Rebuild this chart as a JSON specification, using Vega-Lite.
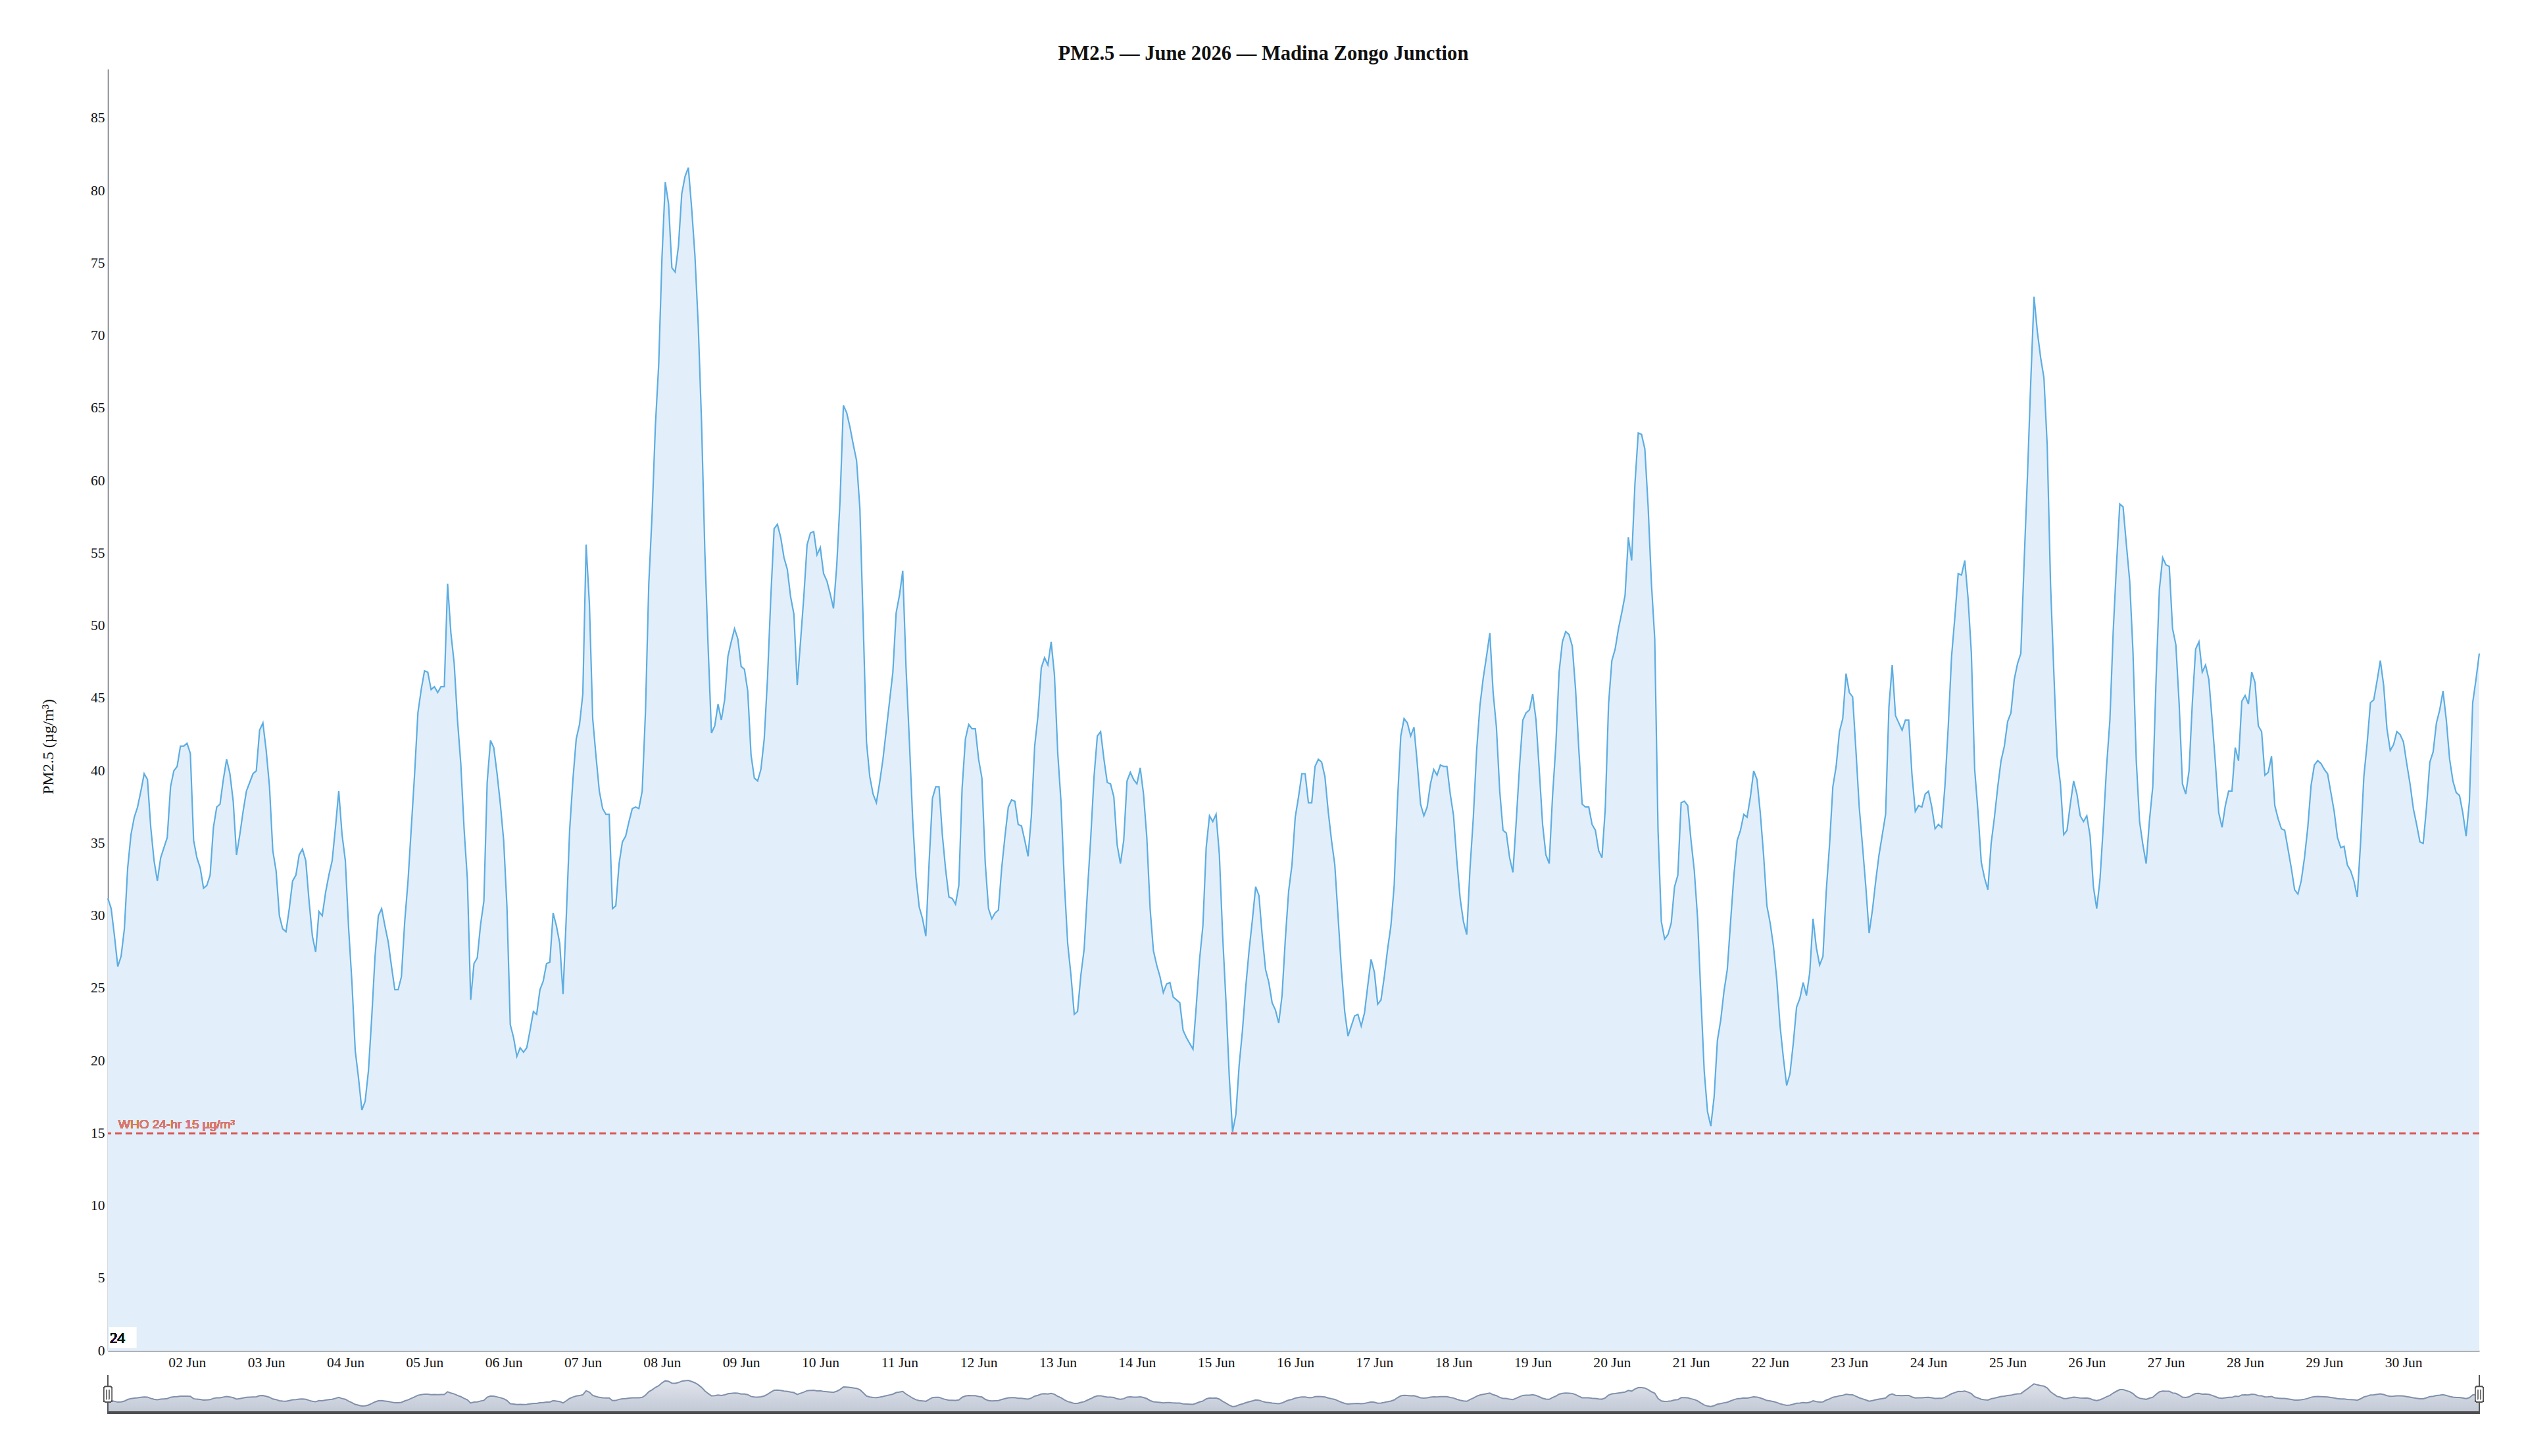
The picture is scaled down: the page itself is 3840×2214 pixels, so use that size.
{
  "$schema": "https://vega.github.io/schema/vega-lite/v6.json",
  "autosize": {"type": "none"},
  "width": 3605,
  "height": 1949,
  "padding": {"left": 164, "top": 105, "right": 71, "bottom": 160},
  "background": "white",
  "title": {
    "text": "PM2.5 — June 2026 — Madina Zongo Junction",
    "font": "Liberation Serif",
    "fontSize": 30.6,
    "fontWeight": "bold",
    "color": "#111",
    "anchor": "middle",
    "dx": -46,
    "offset": 7
  },
  "datasets": {
    "pm": [
      {"t":"2026-06-01T00:00","v":31.2},{"t":"2026-06-01T01:00","v":30.5},{"t":"2026-06-01T02:00","v":28.6},{"t":"2026-06-01T03:00","v":26.5},{"t":"2026-06-01T04:00","v":27.2},{"t":"2026-06-01T05:00","v":29.1},{"t":"2026-06-01T06:00","v":33.3},{"t":"2026-06-01T07:00","v":35.6},{"t":"2026-06-01T08:00","v":36.8},{"t":"2026-06-01T09:00","v":37.5},{"t":"2026-06-01T10:00","v":38.6},{"t":"2026-06-01T11:00","v":39.8},{"t":"2026-06-01T12:00","v":39.4},{"t":"2026-06-01T13:00","v":36.1},{"t":"2026-06-01T14:00","v":33.8},{"t":"2026-06-01T15:00","v":32.4},{"t":"2026-06-01T16:00","v":34.0},{"t":"2026-06-01T17:00","v":34.7},{"t":"2026-06-01T18:00","v":35.4},{"t":"2026-06-01T19:00","v":38.9},{"t":"2026-06-01T20:00","v":40.0},{"t":"2026-06-01T21:00","v":40.3},{"t":"2026-06-01T22:00","v":41.7},{"t":"2026-06-01T23:00","v":41.7},
      {"t":"2026-06-02T00:00","v":41.9},{"t":"2026-06-02T01:00","v":41.2},{"t":"2026-06-02T02:00","v":35.2},{"t":"2026-06-02T03:00","v":34.0},{"t":"2026-06-02T04:00","v":33.3},{"t":"2026-06-02T05:00","v":31.9},{"t":"2026-06-02T06:00","v":32.1},{"t":"2026-06-02T07:00","v":32.8},{"t":"2026-06-02T08:00","v":36.1},{"t":"2026-06-02T09:00","v":37.5},{"t":"2026-06-02T10:00","v":37.7},{"t":"2026-06-02T11:00","v":39.4},{"t":"2026-06-02T12:00","v":40.8},{"t":"2026-06-02T13:00","v":39.8},{"t":"2026-06-02T14:00","v":37.9},{"t":"2026-06-02T15:00","v":34.2},{"t":"2026-06-02T16:00","v":35.6},{"t":"2026-06-02T17:00","v":37.2},{"t":"2026-06-02T18:00","v":38.6},{"t":"2026-06-02T19:00","v":39.2},{"t":"2026-06-02T20:00","v":39.8},{"t":"2026-06-02T21:00","v":40.0},{"t":"2026-06-02T22:00","v":42.8},{"t":"2026-06-02T23:00","v":43.3},
      {"t":"2026-06-03T00:00","v":41.4},{"t":"2026-06-03T01:00","v":38.9},{"t":"2026-06-03T02:00","v":34.5},{"t":"2026-06-03T03:00","v":33.1},{"t":"2026-06-03T04:00","v":30.0},{"t":"2026-06-03T05:00","v":29.1},{"t":"2026-06-03T06:00","v":28.9},{"t":"2026-06-03T07:00","v":30.5},{"t":"2026-06-03T08:00","v":32.4},{"t":"2026-06-03T09:00","v":32.8},{"t":"2026-06-03T10:00","v":34.2},{"t":"2026-06-03T11:00","v":34.6},{"t":"2026-06-03T12:00","v":33.8},{"t":"2026-06-03T13:00","v":31.0},{"t":"2026-06-03T14:00","v":28.6},{"t":"2026-06-03T15:00","v":27.5},{"t":"2026-06-03T16:00","v":30.3},{"t":"2026-06-03T17:00","v":30.0},{"t":"2026-06-03T18:00","v":31.6},{"t":"2026-06-03T19:00","v":32.8},{"t":"2026-06-03T20:00","v":33.8},{"t":"2026-06-03T21:00","v":36.1},{"t":"2026-06-03T22:00","v":38.6},{"t":"2026-06-03T23:00","v":35.6},
      {"t":"2026-06-04T00:00","v":33.8},{"t":"2026-06-04T01:00","v":29.1},{"t":"2026-06-04T02:00","v":25.4},{"t":"2026-06-04T03:00","v":20.7},{"t":"2026-06-04T04:00","v":18.8},{"t":"2026-06-04T05:00","v":16.6},{"t":"2026-06-04T06:00","v":17.2},{"t":"2026-06-04T07:00","v":19.3},{"t":"2026-06-04T08:00","v":23.0},{"t":"2026-06-04T09:00","v":27.2},{"t":"2026-06-04T10:00","v":30.0},{"t":"2026-06-04T11:00","v":30.5},{"t":"2026-06-04T12:00","v":29.3},{"t":"2026-06-04T13:00","v":28.2},{"t":"2026-06-04T14:00","v":26.5},{"t":"2026-06-04T15:00","v":24.9},{"t":"2026-06-04T16:00","v":24.9},{"t":"2026-06-04T17:00","v":25.8},{"t":"2026-06-04T18:00","v":29.6},{"t":"2026-06-04T19:00","v":32.4},{"t":"2026-06-04T20:00","v":36.1},{"t":"2026-06-04T21:00","v":39.8},{"t":"2026-06-04T22:00","v":44.0},{"t":"2026-06-04T23:00","v":45.6},
      {"t":"2026-06-05T00:00","v":46.9},{"t":"2026-06-05T01:00","v":46.8},{"t":"2026-06-05T02:00","v":45.6},{"t":"2026-06-05T03:00","v":45.8},{"t":"2026-06-05T04:00","v":45.4},{"t":"2026-06-05T05:00","v":45.8},{"t":"2026-06-05T06:00","v":45.8},{"t":"2026-06-05T07:00","v":52.9},{"t":"2026-06-05T08:00","v":49.5},{"t":"2026-06-05T09:00","v":47.4},{"t":"2026-06-05T10:00","v":43.5},{"t":"2026-06-05T11:00","v":40.5},{"t":"2026-06-05T12:00","v":36.0},{"t":"2026-06-05T13:00","v":32.5},{"t":"2026-06-05T14:00","v":24.2},{"t":"2026-06-05T15:00","v":26.7},{"t":"2026-06-05T16:00","v":27.1},{"t":"2026-06-05T17:00","v":29.4},{"t":"2026-06-05T18:00","v":31.0},{"t":"2026-06-05T19:00","v":39.2},{"t":"2026-06-05T20:00","v":42.1},{"t":"2026-06-05T21:00","v":41.6},{"t":"2026-06-05T22:00","v":39.8},{"t":"2026-06-05T23:00","v":37.7},
      {"t":"2026-06-06T00:00","v":35.2},{"t":"2026-06-06T01:00","v":30.6},{"t":"2026-06-06T02:00","v":22.5},{"t":"2026-06-06T03:00","v":21.6},{"t":"2026-06-06T04:00","v":20.3},{"t":"2026-06-06T05:00","v":20.9},{"t":"2026-06-06T06:00","v":20.6},{"t":"2026-06-06T07:00","v":20.9},{"t":"2026-06-06T08:00","v":22.1},{"t":"2026-06-06T09:00","v":23.4},{"t":"2026-06-06T10:00","v":23.2},{"t":"2026-06-06T11:00","v":24.9},{"t":"2026-06-06T12:00","v":25.5},{"t":"2026-06-06T13:00","v":26.7},{"t":"2026-06-06T14:00","v":26.8},{"t":"2026-06-06T15:00","v":30.2},{"t":"2026-06-06T16:00","v":29.3},{"t":"2026-06-06T17:00","v":28.1},{"t":"2026-06-06T18:00","v":24.6},{"t":"2026-06-06T19:00","v":30.0},{"t":"2026-06-06T20:00","v":35.9},{"t":"2026-06-06T21:00","v":39.4},{"t":"2026-06-06T22:00","v":42.2},{"t":"2026-06-06T23:00","v":43.2},
      {"t":"2026-06-07T00:00","v":45.3},{"t":"2026-06-07T01:00","v":55.6},{"t":"2026-06-07T02:00","v":51.5},{"t":"2026-06-07T03:00","v":43.6},{"t":"2026-06-07T04:00","v":41.0},{"t":"2026-06-07T05:00","v":38.6},{"t":"2026-06-07T06:00","v":37.4},{"t":"2026-06-07T07:00","v":37.0},{"t":"2026-06-07T08:00","v":37.0},{"t":"2026-06-07T09:00","v":30.5},{"t":"2026-06-07T10:00","v":30.7},{"t":"2026-06-07T11:00","v":33.6},{"t":"2026-06-07T12:00","v":35.1},{"t":"2026-06-07T13:00","v":35.5},{"t":"2026-06-07T14:00","v":36.5},{"t":"2026-06-07T15:00","v":37.4},{"t":"2026-06-07T16:00","v":37.5},{"t":"2026-06-07T17:00","v":37.4},{"t":"2026-06-07T18:00","v":38.6},{"t":"2026-06-07T19:00","v":44.1},{"t":"2026-06-07T20:00","v":52.9},{"t":"2026-06-07T21:00","v":57.7},{"t":"2026-06-07T22:00","v":63.8},{"t":"2026-06-07T23:00","v":68.0},
      {"t":"2026-06-08T00:00","v":75.4},{"t":"2026-06-08T01:00","v":80.6},{"t":"2026-06-08T02:00","v":79.1},{"t":"2026-06-08T03:00","v":74.7},{"t":"2026-06-08T04:00","v":74.4},{"t":"2026-06-08T05:00","v":76.2},{"t":"2026-06-08T06:00","v":79.8},{"t":"2026-06-08T07:00","v":81.0},{"t":"2026-06-08T08:00","v":81.6},{"t":"2026-06-08T09:00","v":78.8},{"t":"2026-06-08T10:00","v":75.5},{"t":"2026-06-08T11:00","v":70.7},{"t":"2026-06-08T12:00","v":64.0},{"t":"2026-06-08T13:00","v":55.1},{"t":"2026-06-08T14:00","v":48.5},{"t":"2026-06-08T15:00","v":42.6},{"t":"2026-06-08T16:00","v":43.1},{"t":"2026-06-08T17:00","v":44.6},{"t":"2026-06-08T18:00","v":43.5},{"t":"2026-06-08T19:00","v":44.9},{"t":"2026-06-08T20:00","v":47.9},{"t":"2026-06-08T21:00","v":48.9},{"t":"2026-06-08T22:00","v":49.8},{"t":"2026-06-08T23:00","v":49.1},
      {"t":"2026-06-09T00:00","v":47.2},{"t":"2026-06-09T01:00","v":47.0},{"t":"2026-06-09T02:00","v":45.5},{"t":"2026-06-09T03:00","v":41.1},{"t":"2026-06-09T04:00","v":39.5},{"t":"2026-06-09T05:00","v":39.3},{"t":"2026-06-09T06:00","v":40.1},{"t":"2026-06-09T07:00","v":42.2},{"t":"2026-06-09T08:00","v":46.4},{"t":"2026-06-09T09:00","v":52.0},{"t":"2026-06-09T10:00","v":56.7},{"t":"2026-06-09T11:00","v":57.0},{"t":"2026-06-09T12:00","v":56.1},{"t":"2026-06-09T13:00","v":54.7},{"t":"2026-06-09T14:00","v":53.9},{"t":"2026-06-09T15:00","v":52.0},{"t":"2026-06-09T16:00","v":50.8},{"t":"2026-06-09T17:00","v":45.9},{"t":"2026-06-09T18:00","v":48.9},{"t":"2026-06-09T19:00","v":52.0},{"t":"2026-06-09T20:00","v":55.6},{"t":"2026-06-09T21:00","v":56.4},{"t":"2026-06-09T22:00","v":56.5},{"t":"2026-06-09T23:00","v":54.9},
      {"t":"2026-06-10T00:00","v":55.4},{"t":"2026-06-10T01:00","v":53.6},{"t":"2026-06-10T02:00","v":53.1},{"t":"2026-06-10T03:00","v":52.2},{"t":"2026-06-10T04:00","v":51.2},{"t":"2026-06-10T05:00","v":54.2},{"t":"2026-06-10T06:00","v":58.7},{"t":"2026-06-10T07:00","v":65.2},{"t":"2026-06-10T08:00","v":64.7},{"t":"2026-06-10T09:00","v":63.7},{"t":"2026-06-10T10:00","v":62.5},{"t":"2026-06-10T11:00","v":61.4},{"t":"2026-06-10T12:00","v":58.1},{"t":"2026-06-10T13:00","v":50.3},{"t":"2026-06-10T14:00","v":42.0},{"t":"2026-06-10T15:00","v":39.6},{"t":"2026-06-10T16:00","v":38.4},{"t":"2026-06-10T17:00","v":37.8},{"t":"2026-06-10T18:00","v":39.2},{"t":"2026-06-10T19:00","v":40.8},{"t":"2026-06-10T20:00","v":42.8},{"t":"2026-06-10T21:00","v":44.8},{"t":"2026-06-10T22:00","v":46.8},{"t":"2026-06-10T23:00","v":50.9},
      {"t":"2026-06-11T00:00","v":52.1},{"t":"2026-06-11T01:00","v":53.8},{"t":"2026-06-11T02:00","v":47.1},{"t":"2026-06-11T03:00","v":42.1},{"t":"2026-06-11T04:00","v":36.7},{"t":"2026-06-11T05:00","v":32.7},{"t":"2026-06-11T06:00","v":30.6},{"t":"2026-06-11T07:00","v":29.8},{"t":"2026-06-11T08:00","v":28.6},{"t":"2026-06-11T09:00","v":33.7},{"t":"2026-06-11T10:00","v":38.1},{"t":"2026-06-11T11:00","v":38.9},{"t":"2026-06-11T12:00","v":38.9},{"t":"2026-06-11T13:00","v":35.6},{"t":"2026-06-11T14:00","v":33.2},{"t":"2026-06-11T15:00","v":31.3},{"t":"2026-06-11T16:00","v":31.2},{"t":"2026-06-11T17:00","v":30.8},{"t":"2026-06-11T18:00","v":32.1},{"t":"2026-06-11T19:00","v":38.8},{"t":"2026-06-11T20:00","v":42.2},{"t":"2026-06-11T21:00","v":43.2},{"t":"2026-06-11T22:00","v":42.9},{"t":"2026-06-11T23:00","v":42.9},
      {"t":"2026-06-12T00:00","v":40.8},{"t":"2026-06-12T01:00","v":39.5},{"t":"2026-06-12T02:00","v":33.7},{"t":"2026-06-12T03:00","v":30.5},{"t":"2026-06-12T04:00","v":29.8},{"t":"2026-06-12T05:00","v":30.2},{"t":"2026-06-12T06:00","v":30.4},{"t":"2026-06-12T07:00","v":33.3},{"t":"2026-06-12T08:00","v":35.5},{"t":"2026-06-12T09:00","v":37.5},{"t":"2026-06-12T10:00","v":38.0},{"t":"2026-06-12T11:00","v":37.9},{"t":"2026-06-12T12:00","v":36.3},{"t":"2026-06-12T13:00","v":36.2},{"t":"2026-06-12T14:00","v":35.2},{"t":"2026-06-12T15:00","v":34.1},{"t":"2026-06-12T16:00","v":36.9},{"t":"2026-06-12T17:00","v":41.7},{"t":"2026-06-12T18:00","v":43.8},{"t":"2026-06-12T19:00","v":47.1},{"t":"2026-06-12T20:00","v":47.8},{"t":"2026-06-12T21:00","v":47.3},{"t":"2026-06-12T22:00","v":48.9},{"t":"2026-06-12T23:00","v":46.6},
      {"t":"2026-06-13T00:00","v":41.2},{"t":"2026-06-13T01:00","v":37.8},{"t":"2026-06-13T02:00","v":32.3},{"t":"2026-06-13T03:00","v":28.1},{"t":"2026-06-13T04:00","v":25.9},{"t":"2026-06-13T05:00","v":23.2},{"t":"2026-06-13T06:00","v":23.4},{"t":"2026-06-13T07:00","v":25.9},{"t":"2026-06-13T08:00","v":27.7},{"t":"2026-06-13T09:00","v":31.7},{"t":"2026-06-13T10:00","v":35.4},{"t":"2026-06-13T11:00","v":39.6},{"t":"2026-06-13T12:00","v":42.4},{"t":"2026-06-13T13:00","v":42.7},{"t":"2026-06-13T14:00","v":40.8},{"t":"2026-06-13T15:00","v":39.2},{"t":"2026-06-13T16:00","v":39.1},{"t":"2026-06-13T17:00","v":38.2},{"t":"2026-06-13T18:00","v":34.9},{"t":"2026-06-13T19:00","v":33.6},{"t":"2026-06-13T20:00","v":35.2},{"t":"2026-06-13T21:00","v":39.3},{"t":"2026-06-13T22:00","v":39.9},{"t":"2026-06-13T23:00","v":39.4},
      {"t":"2026-06-14T00:00","v":39.1},{"t":"2026-06-14T01:00","v":40.2},{"t":"2026-06-14T02:00","v":38.4},{"t":"2026-06-14T03:00","v":35.4},{"t":"2026-06-14T04:00","v":30.5},{"t":"2026-06-14T05:00","v":27.6},{"t":"2026-06-14T06:00","v":26.6},{"t":"2026-06-14T07:00","v":25.8},{"t":"2026-06-14T08:00","v":24.7},{"t":"2026-06-14T09:00","v":25.3},{"t":"2026-06-14T10:00","v":25.4},{"t":"2026-06-14T11:00","v":24.4},{"t":"2026-06-14T12:00","v":24.2},{"t":"2026-06-14T13:00","v":24.0},{"t":"2026-06-14T14:00","v":22.1},{"t":"2026-06-14T15:00","v":21.6},{"t":"2026-06-14T16:00","v":21.2},{"t":"2026-06-14T17:00","v":20.8},{"t":"2026-06-14T18:00","v":23.8},{"t":"2026-06-14T19:00","v":27.0},{"t":"2026-06-14T20:00","v":29.3},{"t":"2026-06-14T21:00","v":34.7},{"t":"2026-06-14T22:00","v":36.9},{"t":"2026-06-14T23:00","v":36.5},
      {"t":"2026-06-15T00:00","v":37.0},{"t":"2026-06-15T01:00","v":34.2},{"t":"2026-06-15T02:00","v":28.6},{"t":"2026-06-15T03:00","v":24.1},{"t":"2026-06-15T04:00","v":18.9},{"t":"2026-06-15T05:00","v":15.1},{"t":"2026-06-15T06:00","v":16.3},{"t":"2026-06-15T07:00","v":19.7},{"t":"2026-06-15T08:00","v":22.1},{"t":"2026-06-15T09:00","v":25.1},{"t":"2026-06-15T10:00","v":27.6},{"t":"2026-06-15T11:00","v":29.7},{"t":"2026-06-15T12:00","v":32.0},{"t":"2026-06-15T13:00","v":31.4},{"t":"2026-06-15T14:00","v":28.6},{"t":"2026-06-15T15:00","v":26.3},{"t":"2026-06-15T16:00","v":25.4},{"t":"2026-06-15T17:00","v":24.0},{"t":"2026-06-15T18:00","v":23.5},{"t":"2026-06-15T19:00","v":22.6},{"t":"2026-06-15T20:00","v":24.5},{"t":"2026-06-15T21:00","v":28.4},{"t":"2026-06-15T22:00","v":31.7},{"t":"2026-06-15T23:00","v":33.5},
      {"t":"2026-06-16T00:00","v":36.8},{"t":"2026-06-16T01:00","v":38.2},{"t":"2026-06-16T02:00","v":39.8},{"t":"2026-06-16T03:00","v":39.8},{"t":"2026-06-16T04:00","v":37.8},{"t":"2026-06-16T05:00","v":37.8},{"t":"2026-06-16T06:00","v":40.3},{"t":"2026-06-16T07:00","v":40.8},{"t":"2026-06-16T08:00","v":40.6},{"t":"2026-06-16T09:00","v":39.6},{"t":"2026-06-16T10:00","v":37.2},{"t":"2026-06-16T11:00","v":35.2},{"t":"2026-06-16T12:00","v":33.5},{"t":"2026-06-16T13:00","v":29.9},{"t":"2026-06-16T14:00","v":26.3},{"t":"2026-06-16T15:00","v":23.4},{"t":"2026-06-16T16:00","v":21.7},{"t":"2026-06-16T17:00","v":22.4},{"t":"2026-06-16T18:00","v":23.1},{"t":"2026-06-16T19:00","v":23.2},{"t":"2026-06-16T20:00","v":22.4},{"t":"2026-06-16T21:00","v":23.3},{"t":"2026-06-16T22:00","v":25.2},{"t":"2026-06-16T23:00","v":27.0},
      {"t":"2026-06-17T00:00","v":26.1},{"t":"2026-06-17T01:00","v":23.9},{"t":"2026-06-17T02:00","v":24.2},{"t":"2026-06-17T03:00","v":25.8},{"t":"2026-06-17T04:00","v":27.7},{"t":"2026-06-17T05:00","v":29.3},{"t":"2026-06-17T06:00","v":32.1},{"t":"2026-06-17T07:00","v":37.9},{"t":"2026-06-17T08:00","v":42.4},{"t":"2026-06-17T09:00","v":43.6},{"t":"2026-06-17T10:00","v":43.3},{"t":"2026-06-17T11:00","v":42.4},{"t":"2026-06-17T12:00","v":43.0},{"t":"2026-06-17T13:00","v":40.5},{"t":"2026-06-17T14:00","v":37.7},{"t":"2026-06-17T15:00","v":36.9},{"t":"2026-06-17T16:00","v":37.5},{"t":"2026-06-17T17:00","v":39.1},{"t":"2026-06-17T18:00","v":40.1},{"t":"2026-06-17T19:00","v":39.7},{"t":"2026-06-17T20:00","v":40.4},{"t":"2026-06-17T21:00","v":40.3},{"t":"2026-06-17T22:00","v":40.3},{"t":"2026-06-17T23:00","v":38.4},
      {"t":"2026-06-18T00:00","v":36.9},{"t":"2026-06-18T01:00","v":33.8},{"t":"2026-06-18T02:00","v":31.2},{"t":"2026-06-18T03:00","v":29.6},{"t":"2026-06-18T04:00","v":28.7},{"t":"2026-06-18T05:00","v":33.3},{"t":"2026-06-18T06:00","v":36.8},{"t":"2026-06-18T07:00","v":41.4},{"t":"2026-06-18T08:00","v":44.5},{"t":"2026-06-18T09:00","v":46.4},{"t":"2026-06-18T10:00","v":47.9},{"t":"2026-06-18T11:00","v":49.5},{"t":"2026-06-18T12:00","v":45.4},{"t":"2026-06-18T13:00","v":43.0},{"t":"2026-06-18T14:00","v":38.6},{"t":"2026-06-18T15:00","v":35.9},{"t":"2026-06-18T16:00","v":35.7},{"t":"2026-06-18T17:00","v":34.0},{"t":"2026-06-18T18:00","v":33.0},{"t":"2026-06-18T19:00","v":36.5},{"t":"2026-06-18T20:00","v":40.3},{"t":"2026-06-18T21:00","v":43.5},{"t":"2026-06-18T22:00","v":44.0},{"t":"2026-06-18T23:00","v":44.2},
      {"t":"2026-06-19T00:00","v":45.3},{"t":"2026-06-19T01:00","v":43.5},{"t":"2026-06-19T02:00","v":40.0},{"t":"2026-06-19T03:00","v":36.3},{"t":"2026-06-19T04:00","v":34.2},{"t":"2026-06-19T05:00","v":33.6},{"t":"2026-06-19T06:00","v":38.2},{"t":"2026-06-19T07:00","v":41.7},{"t":"2026-06-19T08:00","v":46.8},{"t":"2026-06-19T09:00","v":48.9},{"t":"2026-06-19T10:00","v":49.6},{"t":"2026-06-19T11:00","v":49.4},{"t":"2026-06-19T12:00","v":48.6},{"t":"2026-06-19T13:00","v":45.6},{"t":"2026-06-19T14:00","v":41.4},{"t":"2026-06-19T15:00","v":37.7},{"t":"2026-06-19T16:00","v":37.5},{"t":"2026-06-19T17:00","v":37.5},{"t":"2026-06-19T18:00","v":36.3},{"t":"2026-06-19T19:00","v":35.9},{"t":"2026-06-19T20:00","v":34.5},{"t":"2026-06-19T21:00","v":34.0},{"t":"2026-06-19T22:00","v":37.4},{"t":"2026-06-19T23:00","v":44.6},
      {"t":"2026-06-20T00:00","v":47.6},{"t":"2026-06-20T01:00","v":48.4},{"t":"2026-06-20T02:00","v":49.8},{"t":"2026-06-20T03:00","v":50.9},{"t":"2026-06-20T04:00","v":52.1},{"t":"2026-06-20T05:00","v":56.1},{"t":"2026-06-20T06:00","v":54.5},{"t":"2026-06-20T07:00","v":59.8},{"t":"2026-06-20T08:00","v":63.3},{"t":"2026-06-20T09:00","v":63.2},{"t":"2026-06-20T10:00","v":62.2},{"t":"2026-06-20T11:00","v":58.2},{"t":"2026-06-20T12:00","v":52.9},{"t":"2026-06-20T13:00","v":49.1},{"t":"2026-06-20T14:00","v":35.9},{"t":"2026-06-20T15:00","v":29.6},{"t":"2026-06-20T16:00","v":28.4},{"t":"2026-06-20T17:00","v":28.7},{"t":"2026-06-20T18:00","v":29.5},{"t":"2026-06-20T19:00","v":32.0},{"t":"2026-06-20T20:00","v":32.8},{"t":"2026-06-20T21:00","v":37.8},{"t":"2026-06-20T22:00","v":37.9},{"t":"2026-06-20T23:00","v":37.6},
      {"t":"2026-06-21T00:00","v":35.2},{"t":"2026-06-21T01:00","v":33.1},{"t":"2026-06-21T02:00","v":29.8},{"t":"2026-06-21T03:00","v":24.4},{"t":"2026-06-21T04:00","v":19.3},{"t":"2026-06-21T05:00","v":16.5},{"t":"2026-06-21T06:00","v":15.5},{"t":"2026-06-21T07:00","v":17.5},{"t":"2026-06-21T08:00","v":21.4},{"t":"2026-06-21T09:00","v":22.8},{"t":"2026-06-21T10:00","v":24.8},{"t":"2026-06-21T11:00","v":26.3},{"t":"2026-06-21T12:00","v":29.6},{"t":"2026-06-21T13:00","v":32.8},{"t":"2026-06-21T14:00","v":35.2},{"t":"2026-06-21T15:00","v":35.9},{"t":"2026-06-21T16:00","v":37.0},{"t":"2026-06-21T17:00","v":36.8},{"t":"2026-06-21T18:00","v":38.2},{"t":"2026-06-21T19:00","v":40.0},{"t":"2026-06-21T20:00","v":39.4},{"t":"2026-06-21T21:00","v":37.1},{"t":"2026-06-21T22:00","v":34.2},{"t":"2026-06-21T23:00","v":30.7},
      {"t":"2026-06-22T00:00","v":29.5},{"t":"2026-06-22T01:00","v":27.9},{"t":"2026-06-22T02:00","v":25.6},{"t":"2026-06-22T03:00","v":22.4},{"t":"2026-06-22T04:00","v":20.2},{"t":"2026-06-22T05:00","v":18.3},{"t":"2026-06-22T06:00","v":19.1},{"t":"2026-06-22T07:00","v":21.2},{"t":"2026-06-22T08:00","v":23.7},{"t":"2026-06-22T09:00","v":24.3},{"t":"2026-06-22T10:00","v":25.4},{"t":"2026-06-22T11:00","v":24.5},{"t":"2026-06-22T12:00","v":26.1},{"t":"2026-06-22T13:00","v":29.8},{"t":"2026-06-22T14:00","v":27.8},{"t":"2026-06-22T15:00","v":26.6},{"t":"2026-06-22T16:00","v":27.2},{"t":"2026-06-22T17:00","v":31.7},{"t":"2026-06-22T18:00","v":34.9},{"t":"2026-06-22T19:00","v":38.9},{"t":"2026-06-22T20:00","v":40.3},{"t":"2026-06-22T21:00","v":42.7},{"t":"2026-06-22T22:00","v":43.6},{"t":"2026-06-22T23:00","v":46.7},
      {"t":"2026-06-23T00:00","v":45.4},{"t":"2026-06-23T01:00","v":45.1},{"t":"2026-06-23T02:00","v":41.4},{"t":"2026-06-23T03:00","v":37.5},{"t":"2026-06-23T04:00","v":34.8},{"t":"2026-06-23T05:00","v":32.0},{"t":"2026-06-23T06:00","v":28.8},{"t":"2026-06-23T07:00","v":30.4},{"t":"2026-06-23T08:00","v":32.4},{"t":"2026-06-23T09:00","v":34.2},{"t":"2026-06-23T10:00","v":35.6},{"t":"2026-06-23T11:00","v":37.0},{"t":"2026-06-23T12:00","v":44.4},{"t":"2026-06-23T13:00","v":47.3},{"t":"2026-06-23T14:00","v":43.8},{"t":"2026-06-23T15:00","v":43.3},{"t":"2026-06-23T16:00","v":42.8},{"t":"2026-06-23T17:00","v":43.5},{"t":"2026-06-23T18:00","v":43.5},{"t":"2026-06-23T19:00","v":39.7},{"t":"2026-06-23T20:00","v":37.2},{"t":"2026-06-23T21:00","v":37.6},{"t":"2026-06-23T22:00","v":37.5},{"t":"2026-06-23T23:00","v":38.4},
      {"t":"2026-06-24T00:00","v":38.6},{"t":"2026-06-24T01:00","v":37.5},{"t":"2026-06-24T02:00","v":36.0},{"t":"2026-06-24T03:00","v":36.3},{"t":"2026-06-24T04:00","v":36.1},{"t":"2026-06-24T05:00","v":39.0},{"t":"2026-06-24T06:00","v":43.1},{"t":"2026-06-24T07:00","v":47.9},{"t":"2026-06-24T08:00","v":50.6},{"t":"2026-06-24T09:00","v":53.6},{"t":"2026-06-24T10:00","v":53.5},{"t":"2026-06-24T11:00","v":54.5},{"t":"2026-06-24T12:00","v":51.9},{"t":"2026-06-24T13:00","v":48.1},{"t":"2026-06-24T14:00","v":40.1},{"t":"2026-06-24T15:00","v":37.2},{"t":"2026-06-24T16:00","v":33.7},{"t":"2026-06-24T17:00","v":32.6},{"t":"2026-06-24T18:00","v":31.8},{"t":"2026-06-24T19:00","v":35.0},{"t":"2026-06-24T20:00","v":36.8},{"t":"2026-06-24T21:00","v":38.9},{"t":"2026-06-24T22:00","v":40.7},{"t":"2026-06-24T23:00","v":41.7},
      {"t":"2026-06-25T00:00","v":43.4},{"t":"2026-06-25T01:00","v":44.0},{"t":"2026-06-25T02:00","v":46.3},{"t":"2026-06-25T03:00","v":47.4},{"t":"2026-06-25T04:00","v":48.1},{"t":"2026-06-25T05:00","v":54.4},{"t":"2026-06-25T06:00","v":60.3},{"t":"2026-06-25T07:00","v":66.8},{"t":"2026-06-25T08:00","v":72.7},{"t":"2026-06-25T09:00","v":70.3},{"t":"2026-06-25T10:00","v":68.5},{"t":"2026-06-25T11:00","v":67.1},{"t":"2026-06-25T12:00","v":62.4},{"t":"2026-06-25T13:00","v":52.9},{"t":"2026-06-25T14:00","v":46.8},{"t":"2026-06-25T15:00","v":41.0},{"t":"2026-06-25T16:00","v":39.1},{"t":"2026-06-25T17:00","v":35.6},{"t":"2026-06-25T18:00","v":35.9},{"t":"2026-06-25T19:00","v":37.7},{"t":"2026-06-25T20:00","v":39.3},{"t":"2026-06-25T21:00","v":38.4},{"t":"2026-06-25T22:00","v":36.9},{"t":"2026-06-25T23:00","v":36.5},
      {"t":"2026-06-26T00:00","v":36.9},{"t":"2026-06-26T01:00","v":35.5},{"t":"2026-06-26T02:00","v":32.0},{"t":"2026-06-26T03:00","v":30.5},{"t":"2026-06-26T04:00","v":32.5},{"t":"2026-06-26T05:00","v":36.2},{"t":"2026-06-26T06:00","v":40.3},{"t":"2026-06-26T07:00","v":43.5},{"t":"2026-06-26T08:00","v":49.6},{"t":"2026-06-26T09:00","v":54.2},{"t":"2026-06-26T10:00","v":58.4},{"t":"2026-06-26T11:00","v":58.2},{"t":"2026-06-26T12:00","v":55.6},{"t":"2026-06-26T13:00","v":53.1},{"t":"2026-06-26T14:00","v":48.2},{"t":"2026-06-26T15:00","v":40.7},{"t":"2026-06-26T16:00","v":36.5},{"t":"2026-06-26T17:00","v":34.9},{"t":"2026-06-26T18:00","v":33.6},{"t":"2026-06-26T19:00","v":36.6},{"t":"2026-06-26T20:00","v":38.9},{"t":"2026-06-26T21:00","v":46.3},{"t":"2026-06-26T22:00","v":52.5},{"t":"2026-06-26T23:00","v":54.7},
      {"t":"2026-06-27T00:00","v":54.2},{"t":"2026-06-27T01:00","v":54.1},{"t":"2026-06-27T02:00","v":49.8},{"t":"2026-06-27T03:00","v":48.7},{"t":"2026-06-27T04:00","v":44.6},{"t":"2026-06-27T05:00","v":39.1},{"t":"2026-06-27T06:00","v":38.4},{"t":"2026-06-27T07:00","v":40.0},{"t":"2026-06-27T08:00","v":44.7},{"t":"2026-06-27T09:00","v":48.4},{"t":"2026-06-27T10:00","v":48.9},{"t":"2026-06-27T11:00","v":46.8},{"t":"2026-06-27T12:00","v":47.3},{"t":"2026-06-27T13:00","v":46.3},{"t":"2026-06-27T14:00","v":43.5},{"t":"2026-06-27T15:00","v":40.5},{"t":"2026-06-27T16:00","v":37.1},{"t":"2026-06-27T17:00","v":36.1},{"t":"2026-06-27T18:00","v":37.6},{"t":"2026-06-27T19:00","v":38.6},{"t":"2026-06-27T20:00","v":38.6},{"t":"2026-06-27T21:00","v":41.6},{"t":"2026-06-27T22:00","v":40.7},{"t":"2026-06-27T23:00","v":44.8},
      {"t":"2026-06-28T00:00","v":45.2},{"t":"2026-06-28T01:00","v":44.6},{"t":"2026-06-28T02:00","v":46.8},{"t":"2026-06-28T03:00","v":46.1},{"t":"2026-06-28T04:00","v":43.1},{"t":"2026-06-28T05:00","v":42.7},{"t":"2026-06-28T06:00","v":39.7},{"t":"2026-06-28T07:00","v":39.9},{"t":"2026-06-28T08:00","v":41.0},{"t":"2026-06-28T09:00","v":37.6},{"t":"2026-06-28T10:00","v":36.7},{"t":"2026-06-28T11:00","v":36.0},{"t":"2026-06-28T12:00","v":35.9},{"t":"2026-06-28T13:00","v":34.6},{"t":"2026-06-28T14:00","v":33.3},{"t":"2026-06-28T15:00","v":31.8},{"t":"2026-06-28T16:00","v":31.5},{"t":"2026-06-28T17:00","v":32.4},{"t":"2026-06-28T18:00","v":34.0},{"t":"2026-06-28T19:00","v":36.1},{"t":"2026-06-28T20:00","v":39.0},{"t":"2026-06-28T21:00","v":40.4},{"t":"2026-06-28T22:00","v":40.7},{"t":"2026-06-28T23:00","v":40.5},
      {"t":"2026-06-29T00:00","v":40.1},{"t":"2026-06-29T01:00","v":39.8},{"t":"2026-06-29T02:00","v":38.5},{"t":"2026-06-29T03:00","v":37.2},{"t":"2026-06-29T04:00","v":35.4},{"t":"2026-06-29T05:00","v":34.7},{"t":"2026-06-29T06:00","v":34.8},{"t":"2026-06-29T07:00","v":33.5},{"t":"2026-06-29T08:00","v":33.1},{"t":"2026-06-29T09:00","v":32.4},{"t":"2026-06-29T10:00","v":31.3},{"t":"2026-06-29T11:00","v":35.0},{"t":"2026-06-29T12:00","v":39.6},{"t":"2026-06-29T13:00","v":41.9},{"t":"2026-06-29T14:00","v":44.7},{"t":"2026-06-29T15:00","v":44.9},{"t":"2026-06-29T16:00","v":46.2},{"t":"2026-06-29T17:00","v":47.6},{"t":"2026-06-29T18:00","v":45.9},{"t":"2026-06-29T19:00","v":42.9},{"t":"2026-06-29T20:00","v":41.4},{"t":"2026-06-29T21:00","v":41.8},{"t":"2026-06-29T22:00","v":42.7},{"t":"2026-06-29T23:00","v":42.5},
      {"t":"2026-06-30T00:00","v":42.0},{"t":"2026-06-30T01:00","v":40.5},{"t":"2026-06-30T02:00","v":39.1},{"t":"2026-06-30T03:00","v":37.4},{"t":"2026-06-30T04:00","v":36.3},{"t":"2026-06-30T05:00","v":35.1},{"t":"2026-06-30T06:00","v":35.0},{"t":"2026-06-30T07:00","v":37.5},{"t":"2026-06-30T08:00","v":40.6},{"t":"2026-06-30T09:00","v":41.3},{"t":"2026-06-30T10:00","v":43.3},{"t":"2026-06-30T11:00","v":44.2},{"t":"2026-06-30T12:00","v":45.5},{"t":"2026-06-30T13:00","v":43.5},{"t":"2026-06-30T14:00","v":40.8},{"t":"2026-06-30T15:00","v":39.3},{"t":"2026-06-30T16:00","v":38.5},{"t":"2026-06-30T17:00","v":38.3},{"t":"2026-06-30T18:00","v":37.1},{"t":"2026-06-30T19:00","v":35.5},{"t":"2026-06-30T20:00","v":37.9},{"t":"2026-06-30T21:00","v":44.7},{"t":"2026-06-30T22:00","v":46.3},{"t":"2026-06-30T23:00","v":48.1}
    ]
  },
  "data": {"name": "pm"},
  "layer": [
    {
      "layer": [
        {
          "mark": {"type": "area", "color": "#e2effa", "opacity": 1},
          "encoding": {
            "x": {
              "field": "t", "type": "temporal",
              "scale": {"domain": [{"year": 2026, "month": 6, "date": 1, "hours": 0}, {"year": 2026, "month": 6, "date": 30, "hours": 23}], "nice": false},
              "axis": {
                "title": null,
                "format": "%d %b",
                "labelExpr": "date(datum.value) == 1 ? '' : datum.label",
                "tickCount": {"interval": "day", "step": 1},
                "ticks": false,
                "grid": false,
                "labelFont": "Liberation Serif",
                "labelFontSize": 21.6,
                "labelColor": "#111",
                "labelPadding": 7,
                "labelFlush": false,
                "labelOverlap": false,
                "domainColor": "#6E7079",
                "domainWidth": 1.5
              }
            },
            "y": {
              "field": "v", "type": "quantitative",
              "scale": {"domain": [0, 88.4], "nice": false, "zero": true},
              "axis": {
                "title": "PM2.5 (µg/m³)",
                "titleFont": "Liberation Serif",
                "titleFontSize": 24,
                "titleFontWeight": "normal",
                "titleColor": "#111",
                "titleX": -91,
                "titleY": 1030,
                "titleAngle": -90,
                "titleAlign": "center",
                "titleBaseline": "middle",
                "values": [0, 5, 10, 15, 20, 25, 30, 35, 40, 45, 50, 55, 60, 65, 70, 75, 80, 85],
                "ticks": false,
                "grid": false,
                "labelFont": "Liberation Serif",
                "labelFontSize": 21.6,
                "labelColor": "#111",
                "labelPadding": 5,
                "domainColor": "#6E7079",
                "domainWidth": 1.5
              }
            }
          }
        },
        {
          "mark": {"type": "line", "color": "#5dade2", "strokeWidth": 2.2},
          "encoding": {
            "x": {"field": "t", "type": "temporal"},
            "y": {"field": "v", "type": "quantitative"}
          }
        },
        {
          "mark": {"type": "rule", "color": "#d9534f", "opacity": 0.5, "strokeWidth": 2, "strokeDash": [10, 6]},
          "encoding": {"y": {"datum": 15}}
        },
        {
          "mark": {"type": "text", "text": "WHO 24-hr 15 µg/m³", "font": "Liberation Sans", "fontSize": 19, "fontWeight": "normal", "color": "#d9776f", "align": "left", "baseline": "alphabetic", "dy": -7},
          "encoding": {
            "x": {"datum": {"year": 2026, "month": 6, "date": 1, "hours": 3, "minutes": 12}, "type": "temporal"},
            "y": {"datum": 15}
          }
        },
        {
          "mark": {"type": "rect", "color": "white"},
          "encoding": {
            "x": {"datum": {"year": 2026, "month": 6, "date": 1, "hours": 0, "minutes": 24}, "type": "temporal"},
            "x2": {"datum": {"year": 2026, "month": 6, "date": 1, "hours": 8, "minutes": 36}},
            "y": {"datum": 0.18},
            "y2": {"datum": 1.63}
          }
        },
        {
          "mark": {"type": "text", "text": "24", "font": "Liberation Serif", "fontSize": 23, "fontWeight": "normal", "color": "#111", "align": "left", "baseline": "alphabetic"},
          "encoding": {
            "x": {"datum": {"year": 2026, "month": 6, "date": 1, "hours": 0, "minutes": 36}, "type": "temporal"},
            "y": {"datum": 0.55}
          }
        }
      ]
    },
    {
      "layer": [
        {
          "mark": {
            "type": "area",
            "line": {"color": "#8090ab", "strokeWidth": 2},
            "color": {"gradient": "linear", "x1": 0, "y1": 0, "x2": 0, "y2": 1, "stops": [{"offset": 0, "color": "#d3d8e2"}, {"offset": 1, "color": "#a7b1c4"}]}
          },
          "encoding": {
            "x": {"field": "t", "type": "temporal"},
            "y": {"field": "v", "type": "quantitative", "axis": null, "scale": {"domain": [0, 88.4], "nice": false, "rangeMin": 2043, "rangeMax": 1990}}
          }
        },
        {
          "mark": {"type": "rule", "color": "#4d4d4d", "strokeWidth": 3},
          "encoding": {"y": {"datum": 0}}
        },
        {
          "mark": {"type": "rule", "color": "#555", "strokeWidth": 2},
          "encoding": {
            "x": {"datum": {"year": 2026, "month": 6, "date": 1, "hours": 0}, "type": "temporal"},
            "y": {"datum": 94},
            "y2": {"datum": -3}
          }
        },
        {
          "mark": {"type": "rule", "color": "#555", "strokeWidth": 2},
          "encoding": {
            "x": {"datum": {"year": 2026, "month": 6, "date": 30, "hours": 23}, "type": "temporal"},
            "y": {"datum": 94},
            "y2": {"datum": -3}
          }
        },
        {
          "mark": {"type": "rect", "fill": "white", "stroke": "#555", "strokeWidth": 1.5, "cornerRadius": 3},
          "encoding": {
            "x": {"datum": {"year": 2026, "month": 5, "date": 31, "hours": 22, "minutes": 48}, "type": "temporal"},
            "x2": {"datum": {"year": 2026, "month": 6, "date": 1, "hours": 1, "minutes": 12}},
            "y": {"datum": 27},
            "y2": {"datum": 66}
          }
        },
        {
          "mark": {"type": "rect", "fill": "white", "stroke": "#555", "strokeWidth": 1.5, "cornerRadius": 3},
          "encoding": {
            "x": {"datum": {"year": 2026, "month": 6, "date": 30, "hours": 21, "minutes": 48}, "type": "temporal"},
            "x2": {"datum": {"year": 2026, "month": 7, "date": 1, "hours": 0, "minutes": 12}},
            "y": {"datum": 27},
            "y2": {"datum": 66}
          }
        },
        {
          "mark": {"type": "rule", "color": "#777", "strokeWidth": 1, "xOffset": -2},
          "encoding": {
            "x": {"datum": {"year": 2026, "month": 6, "date": 1, "hours": 0}, "type": "temporal"},
            "y": {"datum": 35},
            "y2": {"datum": 58}
          }
        },
        {
          "mark": {"type": "rule", "color": "#777", "strokeWidth": 1, "xOffset": 2},
          "encoding": {
            "x": {"datum": {"year": 2026, "month": 6, "date": 1, "hours": 0}, "type": "temporal"},
            "y": {"datum": 35},
            "y2": {"datum": 58}
          }
        },
        {
          "mark": {"type": "rule", "color": "#777", "strokeWidth": 1, "xOffset": -2},
          "encoding": {
            "x": {"datum": {"year": 2026, "month": 6, "date": 30, "hours": 23}, "type": "temporal"},
            "y": {"datum": 35},
            "y2": {"datum": 58}
          }
        },
        {
          "mark": {"type": "rule", "color": "#777", "strokeWidth": 1, "xOffset": 2},
          "encoding": {
            "x": {"datum": {"year": 2026, "month": 6, "date": 30, "hours": 23}, "type": "temporal"},
            "y": {"datum": 35},
            "y2": {"datum": 58}
          }
        }
      ]
    }
  ],
  "resolve": {"scale": {"y": "independent"}},
  "config": {
    "view": {"stroke": null}
  }
}
